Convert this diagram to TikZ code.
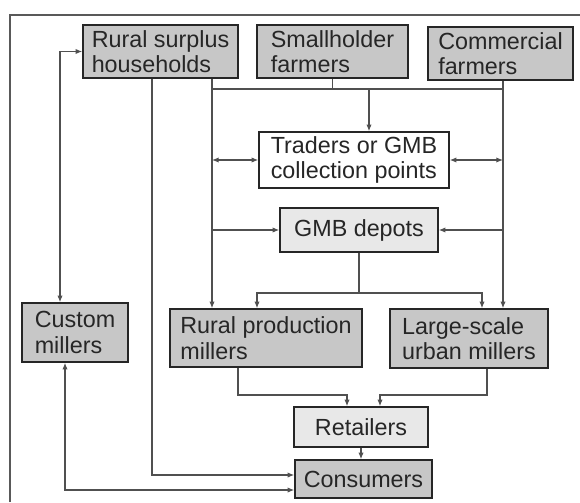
\documentclass[tikz,border=0pt]{standalone}
\usepackage{fontspec}
\setmainfont{Liberation Sans}
\usetikzlibrary{arrows.meta, positioning}
\definecolor{tinta}{RGB}{38, 38, 38}
\definecolor{linea}{RGB}{80, 80, 80}
\tikzset{
    sz/.style 2 args={minimum width=#1*0.75pt, minimum height=#2*0.75pt},
    flow/.style={draw=tinta, fill=black!22, text=tinta, line width=1.1pt, align=left, inner sep=0pt, font=\fontsize{17.5}{19}\selectfont},
    flowLow/.style={flow, fill=black!9},
    flowNone/.style={flow, fill=white},
    conn/.style={draw=linea, line width=0.9pt},
    arr/.style={conn, -{Latex[length=5pt,width=4pt]}},
    arrBoth/.style={conn, {Latex[length=5pt,width=4pt]}-{Latex[length=5pt,width=4pt]}},
}
\begin{document}
\begin{tikzpicture}[x=0.75pt, y=-0.75pt]
    \useasboundingbox (0,0) rectangle (580,502);
    \draw[line width=1.4pt, black!65] (10,502) -- (10,15) -- (580,15);

    \node[flow, sz={155}{53}] (rsh) at (160.5,51.5) {Rural surplus\\households};
    \node[flow, sz={151}{53}] (small) at (332.5,51.5) {Smallholder\\farmers};
    \node[flow, sz={145}{53}] (comm) at (500.5,53.5) {Commercial\\farmers};
    \node[flowNone, sz={190}{56}] (trad) at (354,160) {Traders or GMB\\collection points};
    \node[flowLow, sz={158}{44}] (dep) at (359,230) {GMB depots};
    \node[flow, sz={106}{59}] (cust) at (75,332.5) {Custom\\millers};
    \node[flow, sz={192}{58}] (rpm) at (266,338) {Rural production\\millers};
    \node[flow, sz={158}{59}] (lum) at (469,338.5) {Large-scale\\urban millers};
    \node[flowLow, sz={134}{40}] (ret) at (361,427) {Retailers};
    \node[flow, sz={137}{38}] (cons) at (363.5,479) {Consumers};

    % lanes
    \coordinate (lnC) at (60,0);
    \coordinate (lnCb) at (65,0);
    \coordinate (lnH) at (152,0);
    \coordinate (lnW) at (212,0);
    \coordinate (lnT) at (369,0);
    \coordinate (lnE) at (503,0);
    \coordinate (lnRa) at (257,0);
    \coordinate (lnLa) at (482,0);
    \coordinate (lnRb) at (238,0);
    \coordinate (lnLb) at (487,0);
    \coordinate (lnP) at (347,0);
    \coordinate (lnQ) at (380,0);
    \coordinate (top) at (0,89);
    \coordinate (fork) at (0,293);
    \coordinate (mer) at (0,395);

    \draw[arrBoth] (cust.north -| lnC) |- (rsh.west);
    \draw[arrBoth] (cust.south -| lnCb) |- ([yshift=-8.25pt]cons.west);
    \draw[arr] (rsh.south -| lnH) |- ([yshift=3pt]cons.west);

    \draw[arr] (rsh.south -| lnW) -- (rpm.north -| lnW);
    \draw[conn] (top -| lnW) -- (top -| lnE);
    \draw[conn] (small.south) -- (small.south |- top);
    \draw[arr] (top -| lnT) -- (trad.north -| lnT);
    \draw[arr] (comm.south -| lnE) -- (lum.north -| lnE);

    \draw[arrBoth] (trad.west -| lnW) -- (trad.west);
    \draw[arrBoth] (trad.east -| lnE) -- (trad.east);
    \draw[arr] (dep.west -| lnW) -- (dep.west);
    \draw[arr] (dep.east -| lnE) -- (dep.east);

    \draw[arr] (dep.south) -- (dep.south |- fork) -| (rpm.north -| lnRa);
    \draw[arr] (dep.south |- fork) -| (lum.north -| lnLa);

    \draw[arr] (rpm.south -| lnRb) |- (mer -| lnP) -- (ret.north -| lnP);
    \draw[arr] (lum.south -| lnLb) |- (mer -| lnQ) -- (ret.north -| lnQ);
    \draw[arr] (ret.south) -- (ret.south |- cons.north);
\end{tikzpicture}
\end{document}
